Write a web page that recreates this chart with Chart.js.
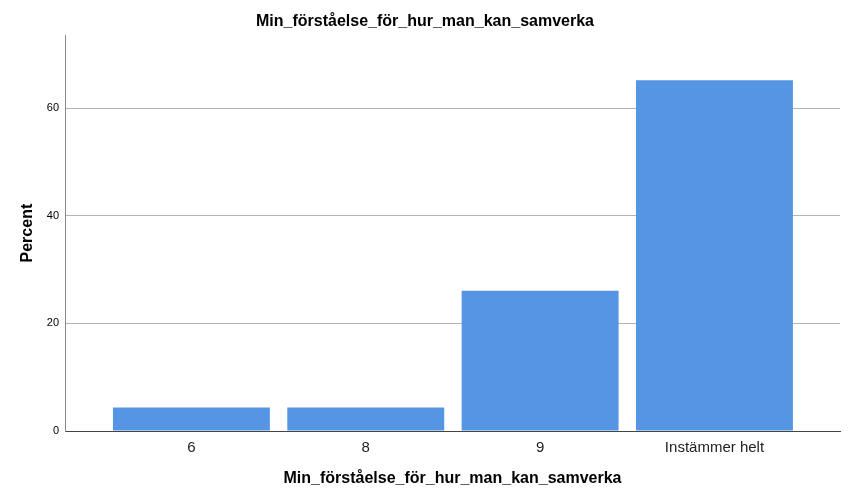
<!DOCTYPE html>
<html>
<head>
<meta charset="utf-8">
<script src="https://cdn.jsdelivr.net/npm/chart.js@4/dist/chart.umd.min.js"></script>
<style>
html,body{margin:0;padding:0;background:#fff;}
#wrap{width:851px;height:501px;position:relative;}
</style>
</head>
<body>
<div id="wrap"><canvas id="c"></canvas></div>
<script>
const chartTitle = "Min_förståelse_för_hur_man_kan_samverka";
const xAxisTitle = "Min_förståelse_för_hur_man_kan_samverka";
const yAxisTitle = "Percent";
const categories = ["6", "8", "9", "Instämmer helt"];
const percentValues = [4.35, 4.35, 26.09, 65.22];
const yTickValues = [0, 20, 40, 60];

const fontFamily = "'Liberation Sans', Arial, sans-serif";

new Chart(document.getElementById('c'), {
  type: 'bar',
  data: {
    datasets: [{
      data: percentValues.map((v, i) => ({x: i, y: v})),
      backgroundColor: '#5595e4',
      borderWidth: 0,
      barPercentage: 0.9,
      categoryPercentage: 1.0
    }]
  },
  options: {
    responsive: true,
    maintainAspectRatio: false,
    animation: false,
    layout: {padding: {left: 10, right: 11, top: 0, bottom: 0}},
    plugins: {
      legend: {display: false},
      tooltip: {enabled: false},
      title: {
        display: true,
        text: chartTitle,
        color: '#000',
        font: {family: fontFamily, size: 16, weight: 'bold', lineHeight: 1.2},
        padding: {top: 12, bottom: 4}
      }
    },
    scales: {
      x: {
        type: 'linear',
        offset: false,
        min: -0.725,
        max: 3.72,
        afterBuildTicks: s => { s.ticks = categories.map((_, i) => ({value: i})); },
        afterFit: s => { s.height = 70; },
        ticks: {
          callback: v => categories[v] ?? '',
          color: '#222',
          font: {family: fontFamily, size: 15},
          padding: 8,
          maxRotation: 0,
          autoSkip: false
        },
        grid: {display: false, drawTicks: false},
        border: {display: true, color: '#444', width: 1},
        title: {
          display: true,
          text: xAxisTitle,
          color: '#000',
          font: {family: fontFamily, size: 16, weight: 'bold', lineHeight: 1.2},
          padding: {top: 0, bottom: 13}
        }
      },
      y: {
        min: 0,
        max: 73.6,
        afterBuildTicks: s => { s.ticks = yTickValues.map(v => ({value: v})); },
        afterFit: s => { s.width = 55; },
        ticks: {
          color: '#000',
          font: {family: fontFamily, size: 11},
          padding: 6
        },
        grid: {
          drawTicks: false,
          color: ctx => ctx.tick && ctx.tick.value === 0 ? 'rgba(0,0,0,0)' : '#b4b4b4',
          lineWidth: 1
        },
        border: {display: true, color: '#888', width: 1},
        title: {
          display: true,
          text: yAxisTitle,
          color: '#000',
          font: {family: fontFamily, size: 16, weight: 'bold', lineHeight: 1.2},
          padding: {top: 8, bottom: 0}
        }
      }
    }
  }
});
</script>
</body>
</html>
